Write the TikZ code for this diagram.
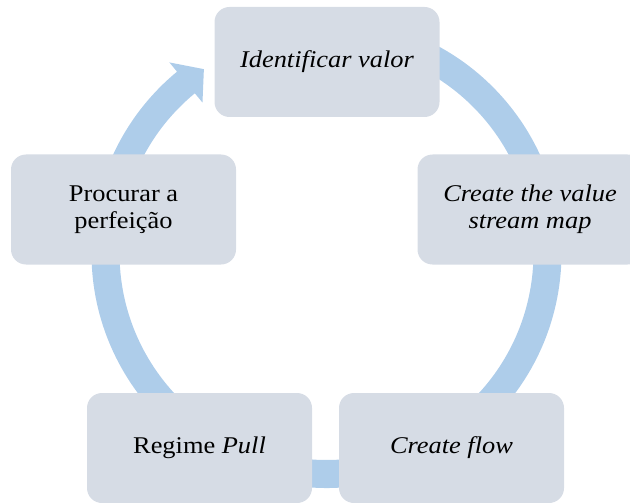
\documentclass[tikz,border=0pt]{standalone}
\usepackage{fontspec}
\setmainfont{Liberation Serif}[FakeStretch=1.1]
\definecolor{ringblue}{RGB}{174,205,234}
\definecolor{boxfill}{RGB}{214,220,229}
\begin{document}
\begin{tikzpicture}[x=0.75pt,y=-0.75pt,
  stage/.style={rounded corners=11.25pt, fill=boxfill,
    minimum width=168.75pt, minimum height=82.5pt, inner sep=0pt,
    align=center, font=\fontsize{18}{20.25}\selectfont},
]
\useasboundingbox (0,0) rectangle (630,502);

% circular arrow running clockwise behind the stages
\fill[ringblue, shift={(326.5,253)}]
  (-85:235) arc[start angle=-85, end angle=230.5, radius=235]
  -- (230.5:247) -- (236.3:221) -- (230.5:195)
  -- (230.5:207) arc[start angle=230.5, end angle=-85, radius=207]
  -- cycle;

% the five stages
\node[stage] (ident) at (327,62)    {\textit{Identificar valor}};
\node[stage] (vsm)   at (530,209.5) {\textit{Create the value}\\\textit{stream map}};
\node[stage] (flow)  at (451.5,448) {\textit{Create flow}};
\node[stage] (pull)  at (199.5,448) {Regime \textit{Pull}};
\node[stage] (perf)  at (123.5,209.5) {Procurar a\\perfeição};
\end{tikzpicture}
\end{document}
